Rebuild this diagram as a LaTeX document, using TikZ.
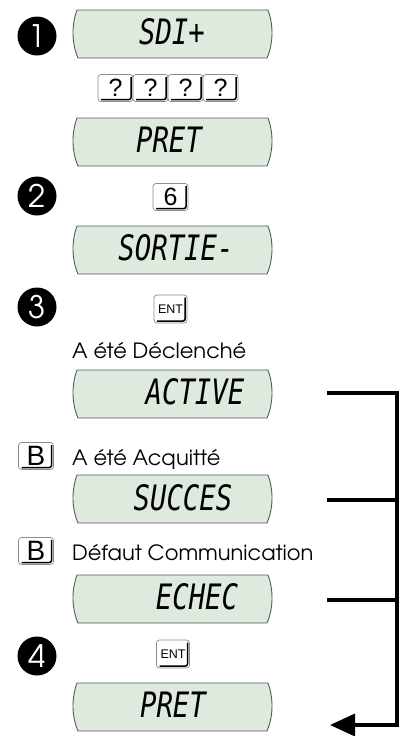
\documentclass[tikz,border=0pt]{standalone}
\usepackage{fontspec}
\setmainfont{TeX Gyre Adventor}
\newfontfamily\keyfont{Liberation Sans}
\newfontfamily\lcdfont{DejaVu Sans Mono}[FakeStretch=0.78]
\usetikzlibrary{arrows.meta}
\definecolor{lcdgreen}{RGB}{222,234,222}
\newcommand{\lcdpanel}[1]{%
  \draw[lcdframe] (77,#1) -- (268,#1)
    .. controls (273.5,#1+15) and (273.5,#1+33) .. (267,#1+48)
    -- (78,#1+48)
    .. controls (71.5,#1+33) and (71.5,#1+15) .. (77,#1) -- cycle;}
\tikzset{
  lcdframe/.style={fill=lcdgreen, draw=black!65, line width=0.9pt},
  lcdtext/.style={font=\lcdfont\itshape\fontsize{35}{35}\selectfont, inner sep=0pt, anchor=base},
  numcirc/.style={circle, fill=black, text=white, minimum size=39pt, inner sep=0pt,
    font=\fontsize{31}{31}\selectfont},
  keycap/.style={draw=black!45, fill=white, rounded corners=3pt, line width=0.7pt,
    minimum width=35pt, minimum height=27pt, inner sep=0pt,
    font=\keyfont\fontsize{25}{25}\selectfont,
    path picture={\draw[black, line width=1.5pt, rounded corners=2pt]
      ([xshift=-2pt,yshift=-2.5pt]path picture bounding box.north east) --
      ([xshift=-2pt,yshift=2pt]path picture bounding box.south east) --
      ([xshift=3pt,yshift=2pt]path picture bounding box.south west);}},
  bkey/.style={keycap, font=\keyfont\fontsize{28}{28}\selectfont},
  entkey/.style={keycap, minimum width=33pt, minimum height=28pt,
    font=\keyfont\fontsize{12.5}{12.5}\selectfont},
  lbl/.style={inner sep=0pt, anchor=base west, font=\fontsize{21}{21}\selectfont},
  bus/.style={line width=3.6pt, line join=miter, line cap=rect},
}
\begin{document}
\begin{tikzpicture}[x=1pt,y=-1pt]
\useasboundingbox (0,0) rectangle (411,736);

% displays
\lcdpanel{10}
\lcdpanel{118}
\lcdpanel{226}
\lcdpanel{370}
\lcdpanel{475}
\lcdpanel{575}
\lcdpanel{683}

\node[lcdtext] (d1) at (172,44) {SDI+};
\node[lcdtext] (d2) at (169,152) {PRET};
\node[lcdtext] (d3) at (176,260) {SORTIE-};
\node[lcdtext] (d4) at (195,404) {ACTIVE};
\node[lcdtext] (d5) at (183,510) {SUCCES};
\node[lcdtext] (d6) at (197,609) {ECHEC};
\node[lcdtext] (d7) at (173,717) {PRET};

% step circles
\node[numcirc] (n1) at (37,36) {1};
\node[numcirc] (n2) at (37,196) {2};
\node[numcirc] (n3) at (37,307) {3};
\node[numcirc] (n4) at (37,656) {4};

% keys
\node[keycap] (q1) at (115.5,88) {?};
\node[keycap] (q2) at (150.5,88) {?};
\node[keycap] (q3) at (185.5,88) {?};
\node[keycap] (q4) at (220.5,88) {?};
\node[keycap] (k6) at (170.5,197) {6};
\node[entkey] (e1) at (170.5,309) {ENT};
\node[bkey] (b1) at (36,456) {B};
\node[bkey] (b2) at (36,551) {B};
\node[entkey] (e2) at (173,654) {ENT};

% labels
\node[lbl] (t1) at (72,358) {A été Déclenché};
\node[lbl] (t2) at (72,465) {A été Acquitté};
\node[lbl] (t3) at (72,560) {Défaut Communication};

% connectors
\coordinate (oA) at (329,393);
\coordinate (oS) at (329,500);
\coordinate (oE) at (329,600);
\coordinate (jA) at (397,393);
\coordinate (jS) at (397,500);
\coordinate (jE) at (397,600);
\coordinate (iP) at (330,725);
\draw[bus, -{Triangle[length=25pt,width=22pt]}] (oA) -- (jA) |- (iP);
\draw[bus] (oS) -- (jS);
\draw[bus] (oE) -- (jE);
\end{tikzpicture}
\end{document}
